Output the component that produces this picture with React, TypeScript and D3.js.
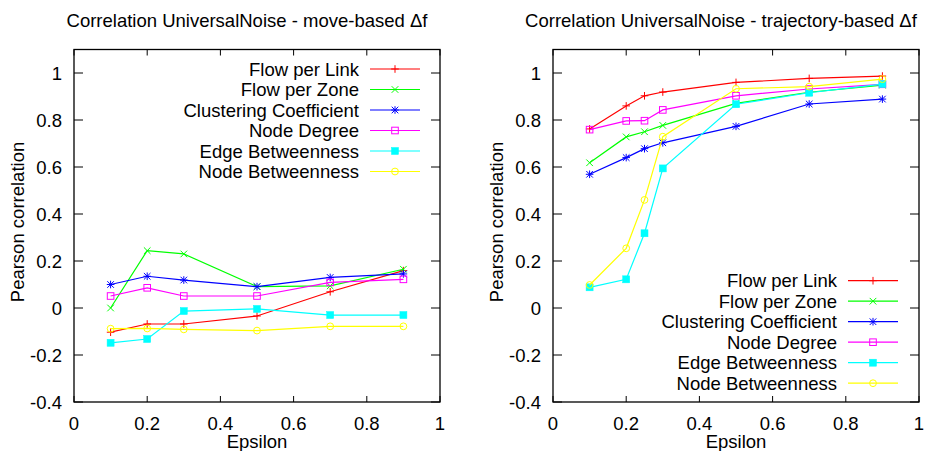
import React from "react";
import * as d3 from "d3";

const seriesNames = [
  "Flow per Link",
  "Flow per Zone",
  "Clustering Coefficient",
  "Node Degree",
  "Edge Betweenness",
  "Node Betweenness",
];
const seriesColors = ["#ff0000", "#00ff00", "#0000ff", "#ff00ff", "#00ffff", "#ffff00"];
const seriesMarkers = ["plus", "cross", "star", "square", "fsquare", "circle"];

const moveEps = [0.1, 0.2, 0.3, 0.5, 0.7, 0.9];
const moveFlowLink = [-0.103, -0.068, -0.068, -0.034, 0.069, 0.159];
const moveFlowZone = [0.0, 0.244, 0.23, 0.091, 0.094, 0.165];
const moveClustering = [0.1, 0.135, 0.119, 0.091, 0.13, 0.145];
const moveNodeDegree = [0.051, 0.086, 0.051, 0.051, 0.109, 0.122];
const moveEdgeBetw = [-0.148, -0.132, -0.013, -0.004, -0.03, -0.03];
const moveNodeBetw = [-0.088, -0.087, -0.091, -0.096, -0.078, -0.078];

const trajEps = [0.1, 0.2, 0.25, 0.3, 0.5, 0.7, 0.9];
const trajFlowLink = [0.762, 0.86, 0.903, 0.919, 0.96, 0.977, 0.987];
const trajFlowZone = [0.618, 0.728, 0.75, 0.777, 0.871, 0.918, 0.948];
const trajClustering = [0.569, 0.64, 0.678, 0.703, 0.773, 0.868, 0.889];
const trajNodeDegree = [0.759, 0.796, 0.797, 0.843, 0.903, 0.932, 0.952];
const trajEdgeBetw = [0.088, 0.122, 0.318, 0.594, 0.867, 0.916, 0.953];
const trajNodeBetw = [0.098, 0.254, 0.46, 0.729, 0.933, 0.942, 0.974];

const xTicks = [0, 0.2, 0.4, 0.6, 0.8, 1];
const xTickLabels = ["0", "0.2", "0.4", "0.6", "0.8", "1"];
const yTicks = [-0.4, -0.2, 0, 0.2, 0.4, 0.6, 0.8, 1];
const yTickLabels = ["-0.4", "-0.2", "0", "0.2", "0.4", "0.6", "0.8", "1"];

const FONT = "'Liberation Sans', Arial, sans-serif";
const FS = 18.5;

function Marker({ type, x, y, color }: { type: string; x: number; y: number; color: string }) {
  const h = 3.8;
  const s = 3.3;
  if (type === "plus")
    return (
      <g stroke={color} strokeWidth={1}>
        <line x1={x - h} y1={y} x2={x + h} y2={y} />
        <line x1={x} y1={y - h} x2={x} y2={y + h} />
      </g>
    );
  if (type === "cross")
    return (
      <g stroke={color} strokeWidth={1}>
        <line x1={x - s} y1={y - s} x2={x + s} y2={y + s} />
        <line x1={x - s} y1={y + s} x2={x + s} y2={y - s} />
      </g>
    );
  if (type === "star")
    return (
      <g stroke={color} strokeWidth={1}>
        <line x1={x - h} y1={y} x2={x + h} y2={y} />
        <line x1={x} y1={y - h} x2={x} y2={y + h} />
        <line x1={x - s} y1={y - s} x2={x + s} y2={y + s} />
        <line x1={x - s} y1={y + s} x2={x + s} y2={y - s} />
      </g>
    );
  if (type === "square")
    return <rect x={x - 3.3} y={y - 3.3} width={6.6} height={6.6} fill="none" stroke={color} strokeWidth={1} />;
  if (type === "fsquare")
    return <rect x={x - 3.5} y={y - 3.5} width={7} height={7} fill={color} stroke={color} strokeWidth={0.5} />;
  return <circle cx={x} cy={y} r={3.4} fill="none" stroke={color} strokeWidth={1} />;
}

function Panel({
  left,
  title,
  titleX,
  eps,
  series,
  legendTextX,
  legendLineX,
  legendY,
}: {
  left: number;
  title: string;
  titleX: number;
  eps: number[];
  series: number[][];
  legendTextX: number;
  legendLineX: number;
  legendY: number;
}) {
  const x = d3.scaleLinear().domain([0, 1]).range([left, left + 366]);
  const y = d3.scaleLinear().domain([-0.4, 1]).range([402, 73]);
  const top = y(1.1);
  const bottom = y(-0.4);
  const right = x(1);
  const legendSpacing = 20.5;
  return (
    <g>
      <text x={titleX} y={27} textAnchor="middle" fontFamily={FONT} fontSize={FS} fill="#000">
        {title}
      </text>
      {yTicks.map((t, i) => (
        <g key={"y" + i} stroke="#000" strokeWidth={1}>
          <line x1={left} x2={left + 9} y1={y(t)} y2={y(t)} />
          <line x1={right} x2={right - 9} y1={y(t)} y2={y(t)} />
        </g>
      ))}
      {xTicks.map((t, i) => (
        <g key={"x" + i} stroke="#000" strokeWidth={1}>
          <line x1={x(t)} x2={x(t)} y1={bottom} y2={bottom - 6} />
          <line x1={x(t)} x2={x(t)} y1={top} y2={top + 6} />
        </g>
      ))}
      {yTicks.map((t, i) => (
        <text
          key={"yl" + i}
          x={left - 12}
          y={y(t)}
          dy="0.36em"
          textAnchor="end"
          fontFamily={FONT}
          fontSize={FS}
          fill="#000"
        >
          {yTickLabels[i]}
        </text>
      ))}
      {xTicks.map((t, i) => (
        <text key={"xl" + i} x={x(t)} y={429.5} textAnchor="middle" fontFamily={FONT} fontSize={FS} fill="#000">
          {xTickLabels[i]}
        </text>
      ))}
      <text x={left + 183} y={448} textAnchor="middle" fontFamily={FONT} fontSize={FS} fill="#000">
        Epsilon
      </text>
      <text
        transform={`translate(${left - 50},222) rotate(-90)`}
        textAnchor="middle"
        fontFamily={FONT}
        fontSize={FS}
        fill="#000"
      >
        Pearson correlation
      </text>
      {seriesNames.map((name, i) => {
        const ly = legendY + i * legendSpacing;
        return (
          <g key={"lg" + i}>
            <text x={legendTextX} y={ly} dy="0.36em" textAnchor="end" fontFamily={FONT} fontSize={FS} fill="#000">
              {name}
            </text>
            <line x1={legendLineX} x2={legendLineX + 50} y1={ly} y2={ly} stroke={seriesColors[i]} strokeWidth={1.2} />
            <Marker type={seriesMarkers[i]} x={legendLineX + 25} y={ly} color={seriesColors[i]} />
          </g>
        );
      })}
      {series.map((vals, si) => {
        const gen = d3
          .line<number>()
          .x((_, i) => x(eps[i]))
          .y((d) => y(d));
        return (
          <g key={"s" + si}>
            <path d={gen(vals) || ""} fill="none" stroke={seriesColors[si]} strokeWidth={1.2} />
            {vals.map((v, i) => (
              <Marker key={i} type={seriesMarkers[si]} x={x(eps[i])} y={y(v)} color={seriesColors[si]} />
            ))}
          </g>
        );
      })}
      <rect x={left} y={top} width={366} height={bottom - top} fill="none" stroke="#000" strokeWidth={1.3} />
    </g>
  );
}

export default function App() {
  const moveSeries = [moveFlowLink, moveFlowZone, moveClustering, moveNodeDegree, moveEdgeBetw, moveNodeBetw];
  const trajSeries = [trajFlowLink, trajFlowZone, trajClustering, trajNodeDegree, trajEdgeBetw, trajNodeBetw];
  return (
    <svg
      width={926}
      height={451}
      style={{ position: "absolute", left: 0, top: 0, background: "#fff" }}
      xmlns="http://www.w3.org/2000/svg"
    >
      <rect x={0} y={0} width={926} height={451} fill="#fff" />
      <Panel
        left={74}
        title="Correlation UniversalNoise - move-based Δf"
        titleX={247}
        eps={moveEps}
        series={moveSeries}
        legendTextX={359}
        legendLineX={370}
        legendY={69}
      />
      <Panel
        left={553}
        title="Correlation UniversalNoise - trajectory-based Δf"
        titleX={721}
        eps={trajEps}
        series={trajSeries}
        legendTextX={837}
        legendLineX={848}
        legendY={280.7}
      />
    </svg>
  );
}
